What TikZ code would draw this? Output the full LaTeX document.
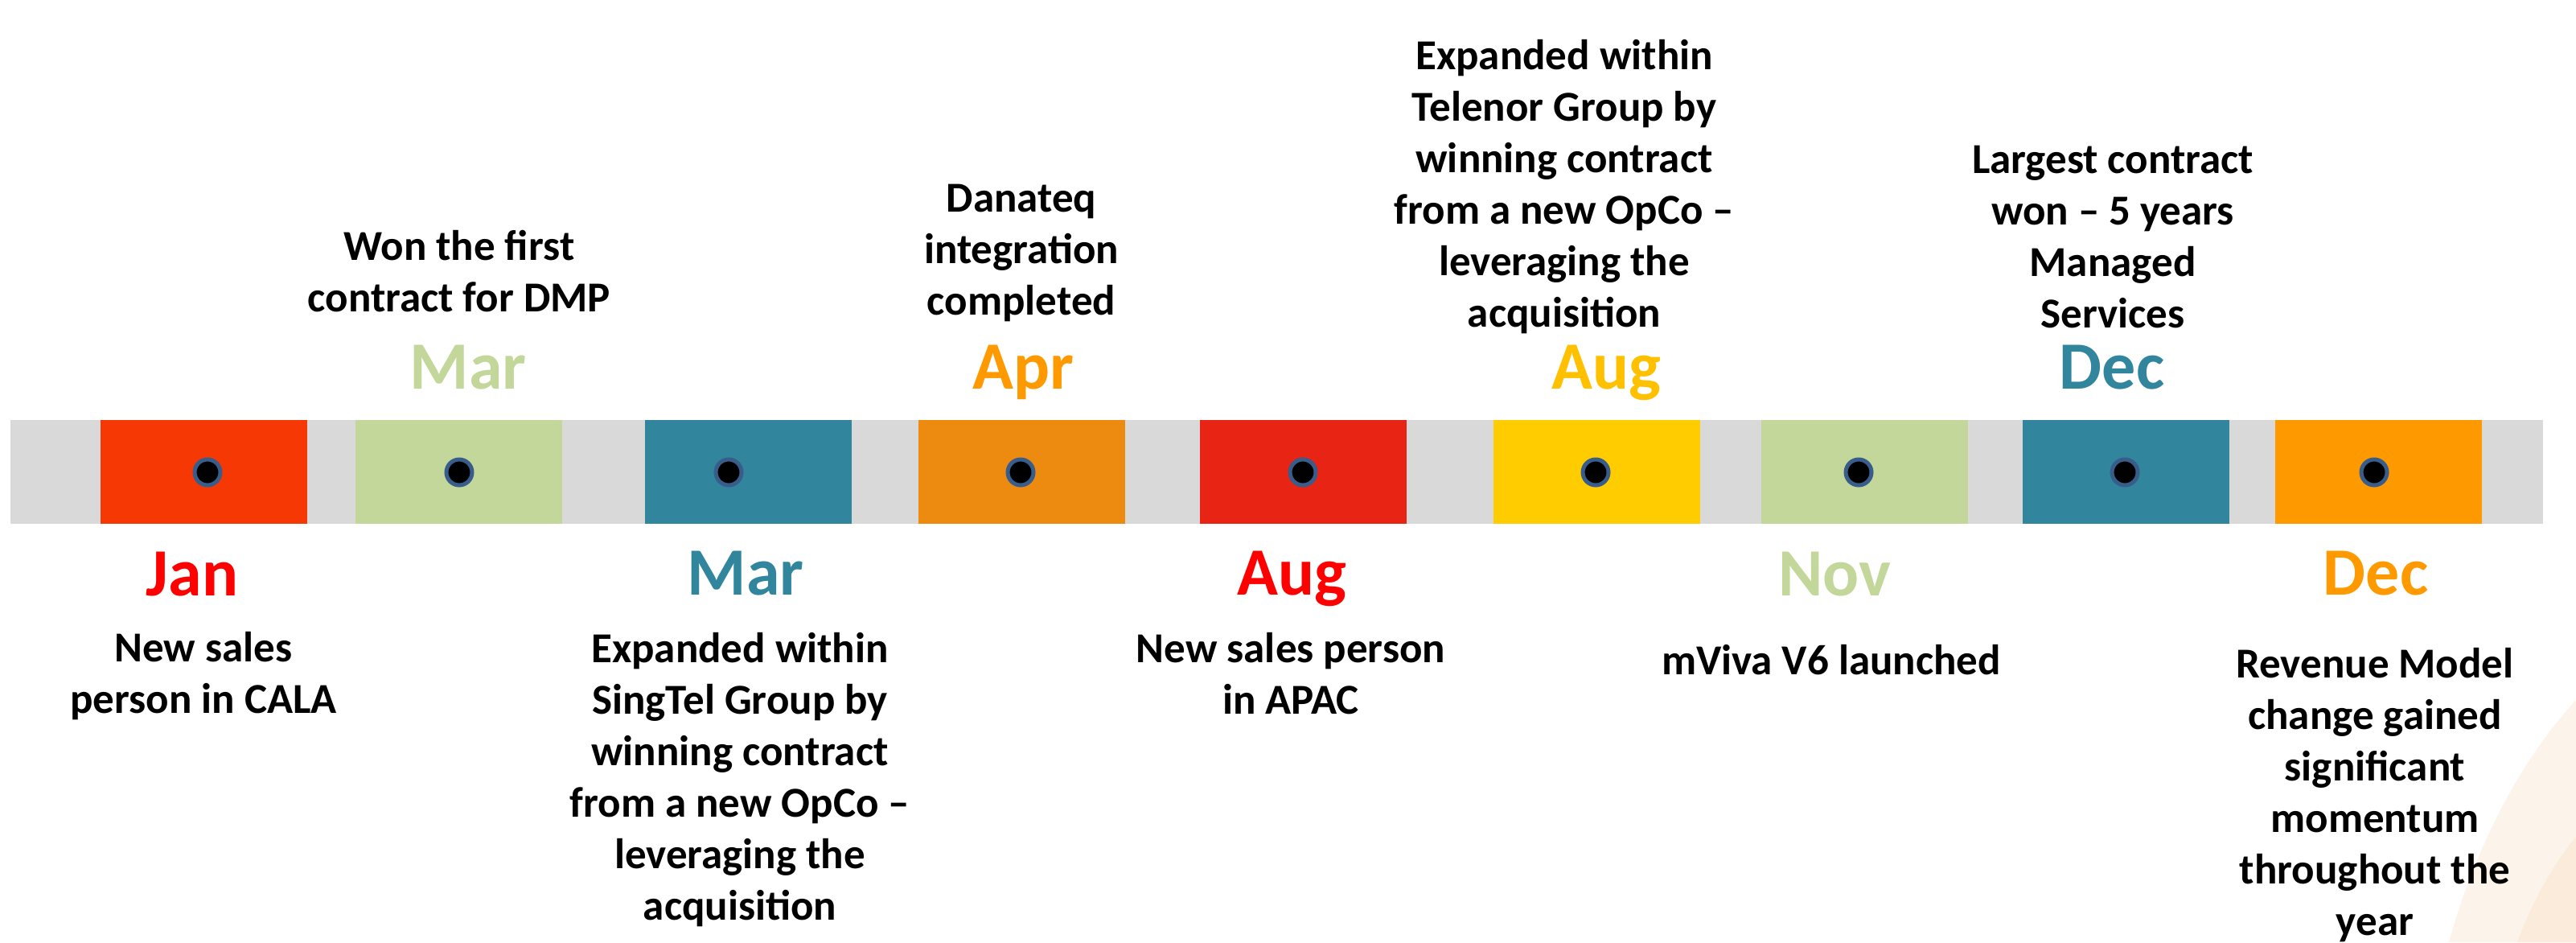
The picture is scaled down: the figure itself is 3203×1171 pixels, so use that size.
\documentclass[tikz,border=0pt]{standalone}
\usepackage{fontspec}
\setmainfont{Carlito}
\definecolor{bargray}{HTML}{D9D9D9}
\definecolor{cJanbox}{HTML}{F63804}
\definecolor{cgreen}{HTML}{C4D79B}
\definecolor{cteal}{HTML}{31859C}
\definecolor{cAprbox}{HTML}{ED8B11}
\definecolor{cAugbox}{HTML}{E82415}
\definecolor{cyellowbox}{HTML}{FFCC00}
\definecolor{cDecbox}{HTML}{FF9900}
\definecolor{cred}{HTML}{FF0000}
\definecolor{corange}{HTML}{FF9900}
\definecolor{cyellow}{HTML}{FFC000}
\definecolor{dotring}{HTML}{385D8A}
\definecolor{peachA}{HTML}{FCF3EA}
\definecolor{peachB}{HTML}{FAEBDA}
\newcommand\bodyfont{\bfseries\fontsize{53}{64}\selectfont}
\newcommand\monthfont{\bfseries\fontsize{84}{98}\selectfont}
\newcommand\evlines[1]{\begin{tabular}[t]{@{}c@{}}#1\end{tabular}}
\tikzset{
  evbox/.style={rectangle, minimum width=257pt, minimum height=129pt, inner sep=0pt, draw=none},
  dotmark/.style={circle, fill=black, draw=dotring, line width=5pt, minimum size=32pt, inner sep=0pt},
  bodytext/.style={anchor=base, inner sep=0pt, font=\bodyfont},
  monthtext/.style={anchor=base, inner sep=0pt, font=\monthfont},
}
\begin{document}
\begin{tikzpicture}[x=1pt, y=-1pt]
\useasboundingbox (0,0) rectangle (3203,1171);
% faint background decoration
\fill[peachA] (3203,870) .. controls (3120,960) and (3070,1080) .. (3045,1171) -- (3203,1171) -- cycle;
\fill[peachB] (3203,1040) .. controls (3170,1080) and (3145,1130) .. (3130,1171) -- (3203,1171) -- cycle;
% timeline bar
\node[rectangle, fill=bargray, minimum width=3149pt, minimum height=129pt, inner sep=0pt] (bar) at (1587.5,586.5) {};
% event boxes
\node[evbox, fill=cJanbox]    (b1) at (253.5,586.5) {};
\node[evbox, fill=cgreen]     (b2) at (570.5,586.5) {};
\node[evbox, fill=cteal]      (b3) at (930.5,586.5) {};
\node[evbox, fill=cAprbox]    (b4) at (1270.5,586.5) {};
\node[evbox, fill=cAugbox]    (b5) at (1620,586.5) {};
\node[evbox, fill=cyellowbox] (b6) at (1985.5,586.5) {};
\node[evbox, fill=cgreen]     (b7) at (2318.5,586.5) {};
\node[evbox, fill=cteal]      (b8) at (2643.5,586.5) {};
\node[evbox, fill=cDecbox]    (b9) at (2957,586.5) {};
% dots
\node[dotmark] (d1) at (258,587) {};
\node[dotmark] (d2) at (571,587) {};
\node[dotmark] (d3) at (906,587) {};
\node[dotmark] (d4) at (1269,587) {};
\node[dotmark] (d5) at (1620,587) {};
\node[dotmark] (d6) at (1984,587) {};
\node[dotmark] (d7) at (2311,587) {};
\node[dotmark] (d8) at (2642,587) {};
\node[dotmark] (d9) at (2952,587) {};
% top labels
\node[bodytext] (t2) at (571,323) {\evlines{Won the first\\contract for DMP}};
\node[monthtext, text=cgreen] (m2) at (582,483) {Mar};
\node[bodytext] (t4) at (1270,263) {\evlines{Danateq\\integration\\completed}};
\node[monthtext, text=corange] (m4) at (1272,483) {Apr};
\node[bodytext] (t6) at (1945,86) {\evlines{Expanded within\\Telenor Group by\\winning contract\\from a new OpCo –\\leveraging the\\acquisition}};
\node[monthtext, text=cyellow] (m6) at (1997,483) {Aug};
\node[bodytext] (t8) at (2627,215) {\evlines{Largest contract\\won – 5 years\\Managed\\Services}};
\node[monthtext, text=cteal] (m8) at (2626,483) {Dec};
% bottom labels
\node[monthtext, text=cred] (m1) at (239,740) {Jan};
\node[bodytext] (t1) at (253,822) {\evlines{New sales\\person in CALA}};
\node[monthtext, text=cteal] (m3) at (927,739) {Mar};
\node[bodytext] (t3) at (920,823) {\evlines{Expanded within\\SingTel Group by\\winning contract\\from a new OpCo –\\leveraging the\\acquisition}};
\node[monthtext, text=cred] (m5) at (1606,739) {Aug};
\node[bodytext] (t5) at (1605,823) {\evlines{New sales person\\in APAC}};
\node[monthtext, text=cgreen] (m7) at (2281,740) {Nov};
\node[bodytext] (t7) at (2277,838) {\evlines{mViva V6 launched}};
\node[monthtext, text=corange] (m9) at (2954,739) {Dec};
\node[bodytext] (t9) at (2953,842) {\evlines{Revenue Model\\change gained\\significant\\momentum\\throughout the\\year}};
\end{tikzpicture}
\end{document}
